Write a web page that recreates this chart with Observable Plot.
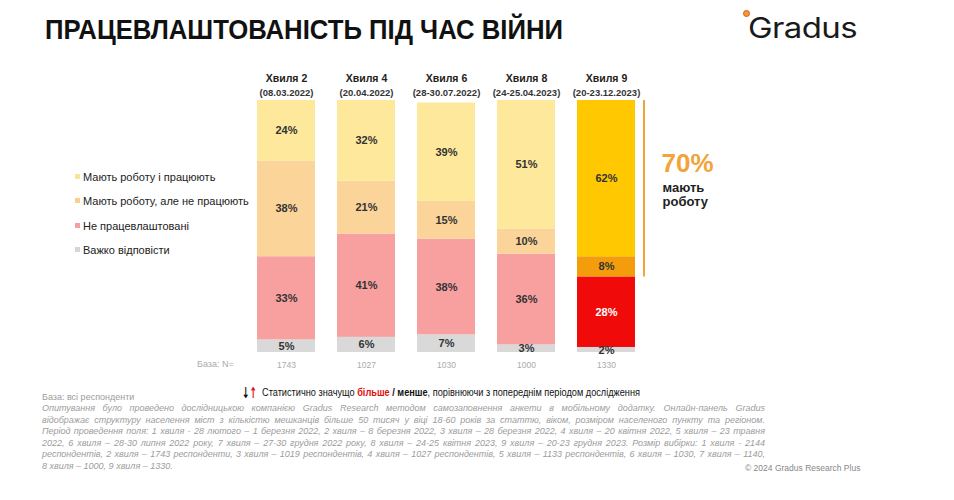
<!DOCTYPE html>
<html>
<head>
<meta charset="utf-8">
<script src="https://cdn.jsdelivr.net/npm/d3@7"></script>
<script src="https://cdn.jsdelivr.net/npm/@observablehq/plot@0.6"></script>
<style>
  html, body { margin: 0; padding: 0; background: #fff; }
  #page { position: relative; width: 954px; height: 500px; overflow: hidden; font-family: "Liberation Sans", Arial, sans-serif; }
  #chart { position: absolute; left: 0; top: 0; }
  .abs { position: absolute; white-space: nowrap; }
  .fit { display: inline-block; transform-origin: 0 50%; }
  .legend-item { position: absolute; left: 75px; font-size: 11px; color: #222; line-height: 14px; }
  .legend-item i { display: inline-block; width: 5px; height: 5px; margin-right: 3px; vertical-align: 2px; }
  .note { font-family: "Liberation Sans Narrow", "Liberation Sans", Arial, sans-serif; font-style: italic; font-size: 9px; color: #9c9c9c; line-height: 11.6px; }
</style>
</head>
<body>
<div id="page"></div>
<script>
// ---------- data ----------
const waves = ["Хвиля 2", "Хвиля 4", "Хвиля 6", "Хвиля 8", "Хвиля 9"];
const waveDates = ["(08.03.2022)", "(20.04.2022)", "(28-30.07.2022)", "(24-25.04.2023)", "(20-23.12.2023)"];
const baseN = [1743, 1027, 1030, 1000, 1330];
const categories = ["Мають роботу і працюють", "Мають роботу, але не працюють", "Не працевлаштовані", "Важко відповісти"];
const working = [24, 32, 39, 51, 62];          // Мають роботу і працюють
const notWorking = [38, 21, 15, 10, 8];        // Мають роботу, але не працюють
const unemployed = [33, 41, 38, 36, 28];       // Не працевлаштовані
const hardToSay = [5, 6, 7, 3, 2];             // Важко відповісти
const employedTotal = 70;                      // мають роботу (хвиля 9)
const employedLabel = ["мають", "роботу"];

// ---------- styles ----------
const paletteOld = {
  "Мають роботу і працюють": "#FDE89C",
  "Мають роботу, але не працюють": "#FBD49A",
  "Не працевлаштовані": "#F8A0A0",
  "Важко відповісти": "#D9D9D9"
};
const paletteNew = {
  "Мають роботу і працюють": "#FFC800",
  "Мають роботу, але не працюють": "#F49D0C",
  "Не працевлаштовані": "#F00A0A",
  "Важко відповісти": "#D9D9D9"
};
const legendColors = ["#FBE39A", "#F9CF90", "#F5A0A0", "#D6D6D6"];
const highlightWave = waves[waves.length - 1];

// build table (stack bottom -> top)
const series = [hardToSay, unemployed, notWorking, working];
const seriesCats = [categories[3], categories[2], categories[1], categories[0]];
const rows = [];
waves.forEach((w, i) => {
  series.forEach((s, k) => rows.push({ wave: w, cat: seriesCats[k], value: s[i], idx: i }));
});
const fillOf = d => (d.wave === highlightWave ? paletteNew : paletteOld)[d.cat];
const labelColorOf = d => (d.wave === highlightWave && d.cat === categories[2]) ? "#ffffff" : "#333333";

const page = document.getElementById("page");

const chart = Plot.plot({
  width: 954,
  height: 500,
  marginTop: 100,
  marginBottom: 148,
  marginLeft: 0,
  marginRight: 0,
  style: { background: "transparent", fontFamily: "Liberation Sans, Arial, sans-serif", overflow: "visible" },
  x: { domain: waves, range: [245.4, 646.6], paddingInner: 0.27, paddingOuter: 0.135, axis: null },
  y: { domain: [0, 100], axis: null },
  color: { type: "identity" },
  marks: [
    Plot.barY(rows, Plot.stackY({ x: "wave", y: "value", z: "cat", order: null, fill: fillOf, inset: 0 })),
    Plot.text(rows, Plot.stackY({ x: "wave", y: "value", z: "cat", order: null, text: d => d.value + "%", fill: labelColorOf, fontWeight: "bold", fontSize: 11 })),
    // headers
    Plot.text(waves, { x: d => d, text: d => d, frameAnchor: "top", lineAnchor: "middle", dy: -22, fontWeight: "bold", fontSize: 10.5, fill: "#222" }),
    Plot.text(waves, { x: d => d, text: (d, i) => waveDates[i], frameAnchor: "top", lineAnchor: "middle", dy: -8, fontWeight: "bold", fontSize: 9.5, fill: "#333" }),
    // base N
    Plot.text(waves, { x: d => d, text: (d, i) => String(baseN[i]), frameAnchor: "bottom", lineAnchor: "middle", dy: 13, fontSize: 8.5, fill: "#aaa" }),
    // bracket & annotation
    Plot.ruleX([highlightWave], { x: d => d, y1: 100 - employedTotal, y2: 100, dx: 37.5, stroke: "#F0A53A", strokeWidth: 2 }),
    Plot.text([employedTotal], { x: () => highlightWave, text: d => d + "%", frameAnchor: "top", lineAnchor: "middle", dy: 63, dx: 55, textAnchor: "start", fontWeight: "bold", fontSize: 26, fill: "#F2A33A" }),
    Plot.text([employedLabel[0]], { x: () => highlightWave, text: d => d, frameAnchor: "top", lineAnchor: "middle", dy: 87, dx: 56, textAnchor: "start", fontWeight: "bold", fontSize: 13, fill: "#222" }),
    Plot.text([employedLabel[1]], { x: () => highlightWave, text: d => d, frameAnchor: "top", lineAnchor: "middle", dy: 101, dx: 56, textAnchor: "start", fontWeight: "bold", fontSize: 13, fill: "#222" })
  ]
});
chart.id = "chart";
page.appendChild(chart);

// ---------- HTML text ----------
function addAbs(html, css, cls) {
  const d = document.createElement("div");
  d.className = "abs " + (cls || "");
  d.innerHTML = html;
  Object.assign(d.style, css);
  page.appendChild(d);
  return d;
}
function fitTo(el, target) {
  const w = el.getBoundingClientRect().width;
  el.style.transform = `scaleX(${target / w})`;
}

// title
addAbs('<span class="fit" id="ttl">ПРАЦЕВЛАШТОВАНІСТЬ ПІД ЧАС ВІЙНИ</span>', { left: "45px", top: "14px", fontSize: "28px", fontWeight: "bold", color: "#111", lineHeight: "32px" });
fitTo(document.getElementById("ttl"), 518);

// logo
addAbs('<span class="fit" id="logo">Gradus</span>', { left: "748px", top: "12px", fontSize: "28px", fontFamily: "Inter, Roboto, sans-serif", fontWeight: "400", color: "#1a1a1a", lineHeight: "32px", letterSpacing: "-0.5px" });
fitTo(document.getElementById("logo"), 109);
addAbs('', { left: "743px", top: "10px", width: "5px", height: "5px", borderRadius: "50%", background: "#F39A2A", border: "1px solid #D2592A" });

// legend
const legendY = [177, 201, 226, 250];
categories.forEach((c, i) => {
  const d = document.createElement("div");
  d.className = "legend-item";
  d.style.top = (legendY[i] - 7) + "px";
  d.innerHTML = `<i style="background:${legendColors[i]}"></i>${c}`;
  page.appendChild(d);
});

// base label
addAbs('База: N=', { left: "197px", top: "359px", fontSize: "9px", color: "#aaa" });

// significance note
addAbs('<span class="fit" id="arr"><span style="font-family:DejaVu Sans;font-size:15px;font-weight:bold;color:#111;">↓</span><span style="font-family:DejaVu Sans;font-size:15px;font-weight:bold;color:#e01010;">↑</span></span>',
  { left: "242px", top: "384px", lineHeight: "18px" });
fitTo(document.getElementById("arr"), 15);
addAbs('<span class="fit" id="sig">Статистично значущо <b style="color:#e01010">більше</b> <b>/ менше</b>, порівнюючи з попереднім періодом дослідження</span>',
  { left: "262px", top: "386px", fontSize: "10px", color: "#111", lineHeight: "14px", fontFamily: '"Liberation Sans Narrow", "Liberation Sans", sans-serif' });
fitTo(document.getElementById("sig"), 378);

addAbs('База: всі респонденти', { left: "42px", top: "392px", fontSize: "9px", color: "#9c9c9c" });

const noteLines = [
  "Опитування було проведено дослідницькою компанією Gradus Research методом самозаповнення анкети в мобільному додатку. Онлайн-панель Gradus",
  "відображає структуру населення міст з кількістю мешканців більше 50 тисяч у віці 18-60 років за статтю, віком, розміром населеного пункту та регіоном.",
  "Період проведення поля: 1 хвиля - 28 лютого – 1 березня 2022, 2 хвиля – 8 березня 2022, 3 хвиля – 28 березня 2022, 4 хвиля – 20 квітня 2022, 5 хвиля – 23 травня",
  "2022, 6 хвиля – 28-30 липня 2022 року, 7 хвиля – 27-30 грудня 2022 року, 8 хвиля – 24-25 квітня 2023, 9 хвиля – 20-23 грудня 2023. Розмір вибірки: 1 хвиля - 2144",
  "респондентів, 2 хвиля – 1743 респонденти, 3 хвиля – 1019 респондентів, 4 хвиля – 1027 респондентів, 5 хвиля – 1133 респондентів, 6 хвиля – 1030, 7 хвиля – 1140,",
  "8 хвиля – 1000, 9 хвиля – 1330."
];
noteLines.forEach((ln, i) => {
  const d = addAbs(`<span class="fit">${ln}</span>`, { left: "42px", top: (403 + i * 11.6) + "px" }, "note");
  const sp = d.firstChild;
  const w = sp.getBoundingClientRect().width;
  const target = 723;
  if (i < noteLines.length - 1) {
    const n = (ln.match(/ /g) || []).length;
    if (w < target) sp.style.wordSpacing = ((target - w) / n) + "px";
    else sp.style.transform = `scaleX(${target / w})`;
  } else if (w > 140) {
    sp.style.transform = `scaleX(${140 / w})`;
  }
});

addAbs('© 2024 Gradus Research Plus', { left: "745px", top: "463px", fontSize: "8.5px", color: "#888" });
</script>
</body>
</html>
